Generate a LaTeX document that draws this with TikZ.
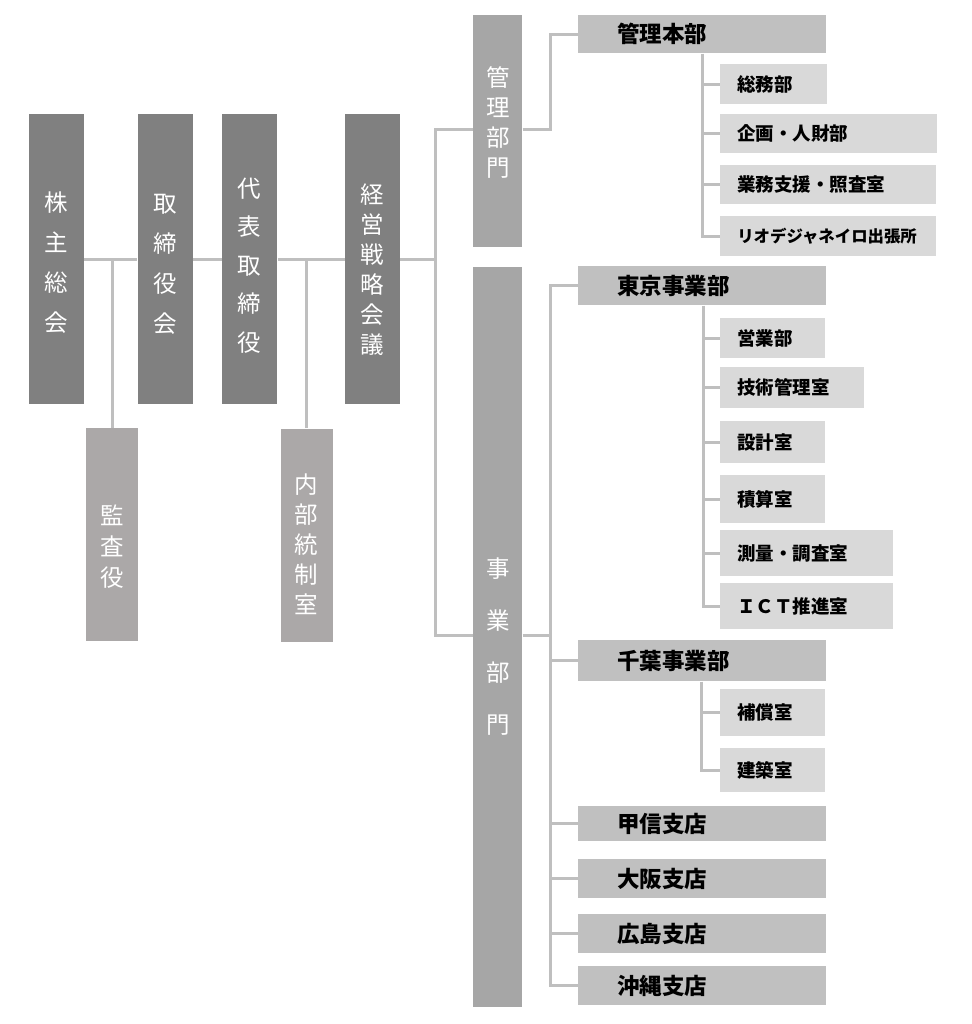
\documentclass[tikz,border=0pt]{standalone}
\usepackage{fontspec}
\setmainfont{Noto Sans CJK JP}
\usetikzlibrary{positioning}
\tikzset{
  every picture/.append style={line width=0.6pt},
}

\begin{document}
\begin{tikzpicture}[
    x=1pt, y=-1pt,
    top/.style={
        rectangle,
        fill=topgray,
        inner sep=0pt,
        minimum width=55pt,
        minimum height=290pt
    },
    staff/.style={
        rectangle,
        fill=staffgray,
        inner sep=0pt,
        minimum width=52pt,
        minimum height=213pt
    },
    division/.style={
        rectangle,
        fill=divgray,
        inner sep=0pt,
        minimum width=49pt,
        anchor=north west
    },
    vtext/.style={
        text=white,
        align=center,
        inner sep=0pt,
        font=\fontsize{23.5}{#1}\selectfont
    },
    dept/.style={
        rectangle,
        fill=deptgray,
        anchor=north west,
        inner ysep=0pt,
        inner xsep=39pt,
        text width=170pt,
        align=left,
        font=\fontsize{22.5}{26}\selectfont\bfseries
    },
    section/.style={
        rectangle,
        fill=secgray,
        anchor=north west,
        inner ysep=0pt,
        inner xsep=17pt,
        text width=#1,
        align=left,
        font=\fontsize{18.5}{22}\selectfont\bfseries
    },
    link/.style={
        draw=linegray,
        line width=3pt
    }
]
% Color definitions
\definecolor{topgray}{RGB}{128,128,128}
\definecolor{staffgray}{RGB}{171,168,168}
\definecolor{divgray}{RGB}{166,166,166}
\definecolor{deptgray}{RGB}{192,192,192}
\definecolor{secgray}{RGB}{217,217,217}
\definecolor{linegray}{RGB}{191,191,191}

\useasboundingbox (0,0) rectangle (971,1024);

% Governing bodies
\node[top] (kabu) at (56.5,259) {};
\node[top, right=53pt of kabu] (tori) {};
\node[top, right=29pt of tori] (daihyo) {};
\node[top, right=67pt of daihyo] (keiei) {};
\node[staff] (kansa) at (112,534.5) {};
\node[staff] (naibu) at (306.5,535) {};

\node[vtext=40, yshift=-4pt] (kabu-t) at (kabu) {株\\主\\総\\会};
\node[vtext=40, yshift=-5pt] (tori-t) at (tori) {取\\締\\役\\会};
\node[vtext=38.6, yshift=-6.5pt] (daihyo-t) at (daihyo) {代\\表\\取\\締\\役};
\node[vtext=30, yshift=-10.5pt] (keiei-t) at (keiei) {経\\営\\戦\\略\\会\\議};
\node[vtext=31, yshift=-12.5pt] (kansa-t) at (kansa) {監\\査\\役};
\node[vtext=30, yshift=-9pt] (naibu-t) at (naibu) {内\\部\\統\\制\\室};

% Divisions
\node[division, minimum height=232pt] (kanri) at (473,15) {};
\node[division, minimum height=740pt] (jigyo) at (473,267) {};
\node[vtext=30, yshift=8.5pt] (kanri-t) at (kanri) {管\\理\\部\\門};
\node[vtext=52, yshift=-9.5pt] (jigyo-t) at (jigyo) {事\\業\\部\\門};

% Departments and branches
\node[dept, minimum height=38pt] (honbu) at (578,15) {管理本部};
\node[dept, minimum height=39pt] (tokyo) at (578,266) {東京事業部};
\node[dept, minimum height=41pt] (chiba) at (578,640) {千葉事業部};
\node[dept, minimum height=35pt] (koshin) at (578,806) {甲信支店};
\node[dept, minimum height=39pt] (osaka) at (578,859) {大阪支店};
\node[dept, minimum height=39pt] (hiroshima) at (578,914) {広島支店};
\node[dept, minimum height=39pt] (okinawa) at (578,966) {沖縄支店};

% Sections
\node[section=73pt, minimum height=40pt] (soumu) at (720,64) {総務部};
\node[section=183pt, minimum height=39pt] (kikaku) at (720,114) {企画・人財部};
\node[section=182pt, minimum height=39pt] (gyomu) at (720,165) {業務支援・照査室};
\node[section=182pt, minimum height=40pt, font=\fontsize{16.4}{20}\selectfont\bfseries] (rio) at (720,216) {リオデジャネイロ出張所};
\node[section=71pt, minimum height=40pt] (eigyo) at (720,318) {営業部};
\node[section=110pt, minimum height=41pt] (gijutsu) at (720,367) {技術管理室};
\node[section=71pt, minimum height=42pt] (sekkei) at (720,421) {設計室};
\node[section=71pt, minimum height=48pt] (sekisan) at (720,475) {積算室};
\node[section=139pt, minimum height=46pt] (sokuryo) at (720,530) {測量・調査室};
\node[section=139pt, minimum height=46pt] (ict) at (720,583) {ＩＣＴ推進室};
\node[section=71pt, minimum height=47pt] (hosho) at (720,689) {補償室};
\node[section=71pt, minimum height=44pt] (kenchiku) at (720,748) {建築室};

% Board line
\draw[link] (kabu) -- (tori);
\draw[link] (tori) -- (daihyo);
\draw[link] (daihyo) -- (keiei);
\draw[link] (kansa) -- (kansa |- kabu);
\draw[link] (naibu) -- (naibu |- daihyo);

% Fork to divisions
\coordinate (forktop) at (435,130);
\coordinate (forkbot) at (435,635);
\draw[link] (keiei) -- (keiei -| forktop);
\draw[link] (kanri.west |- forktop) -- (forktop) -- (forkbot) -- (jigyo.west |- forkbot);

% Management division
\coordinate (kspine) at (550,130);
\coordinate (hspine) at (702.5,0);
\draw[link] (kanri.east |- kspine) -- (kspine) |- (honbu);
\draw[link] (honbu.south -| hspine) |- (rio);
\foreach \n in {soumu,kikaku,gyomu}
    \draw[link] (\n -| hspine) -- (\n);

% Business division
\coordinate (jspine) at (550,0);
\draw[link] (jigyo.east |- forkbot) -- (forkbot -| jspine);
\draw[link] (tokyo) -| (jspine |- okinawa) -- (okinawa);
\foreach \n in {chiba,koshin,osaka,hiroshima}
    \draw[link] (\n -| jspine) -- (\n);

\coordinate (tspine) at (703.5,0);
\draw[link] (tokyo.south -| tspine) |- (ict);
\foreach \n in {eigyo,gijutsu,sekkei,sekisan,sokuryo}
    \draw[link] (\n -| tspine) -- (\n);

\coordinate (cspine) at (701,0);
\draw[link] (chiba.south -| cspine) |- (kenchiku);
\draw[link] (hosho -| cspine) -- (hosho);
\end{tikzpicture}
\end{document}
